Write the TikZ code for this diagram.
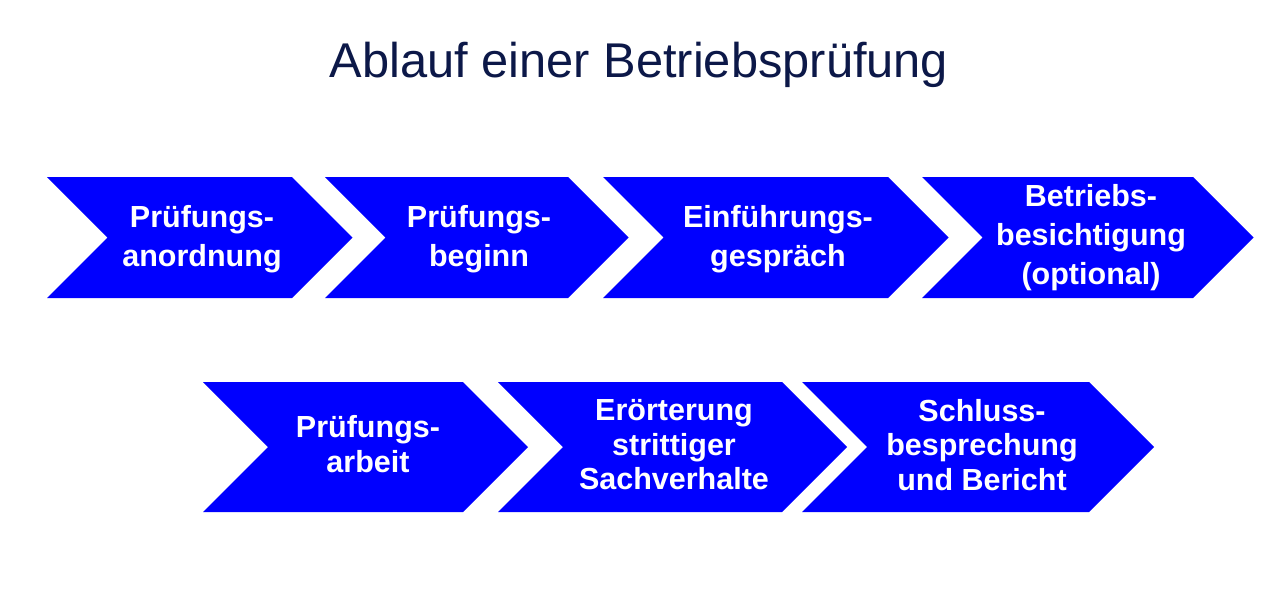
\documentclass[tikz,border=0pt]{standalone}
\usepackage{fontspec}
\setmainfont{Liberation Sans}
\definecolor{chevblue}{RGB}{0,0,255}
\definecolor{titlenavy}{RGB}{12,24,72}
\tikzset{
  chevron/.style={fill=chevblue, draw=none},
  chevtext/.style={text=white, font=\bfseries\fontsize{30.5}{39}\selectfont, align=center, inner sep=0pt, anchor=center},
  chevtextb/.style={chevtext, font=\bfseries\fontsize{30.5}{34.5}\selectfont},
  titletext/.style={text=titlenavy, font=\fontsize{48.8}{56}\selectfont, inner sep=0pt, anchor=base}
}
% #1 left, #2 corner, #3 top, #4 bottom, #5 depth
\newcommand{\mychev}[5]{%
  \fill[chevron] (#1,#3) -- (#2,#3) -- ({#2+#5},{(#3+#4)/2}) -- (#2,#4) -- (#1,#4) -- ({#1+#5},{(#3+#4)/2}) -- cycle;%
}
\begin{document}
\begin{tikzpicture}[x=1pt,y=-1pt]
\useasboundingbox (0,0) rectangle (1280,611);
\fill[white] (0,0) rectangle (1280,611);

\node[titletext] (title) at (639,77) {Ablauf einer Betriebsprüfung};

% row 1
\mychev{47}{292}{177}{298}{60.5}
\mychev{325}{568}{177}{298}{60.5}
\mychev{603}{888}{177}{298}{60.5}
\mychev{922}{1193}{177}{298}{60.5}
% row 2
\mychev{203}{463}{382}{512}{65}
\mychev{498}{782}{382}{512}{65}
\mychev{802}{1089}{382}{512}{65}

\node[chevtext] (t1) at (202,239) {Prüfungs-\\anordnung};
\node[chevtext] (t2) at (479,239) {Prüfungs-\\beginn};
\node[chevtext] (t3) at (778,239) {Einführungs-\\gespräch};
\node[chevtext] (t4) at (1091,237.2) {Betriebs-\\besichtigung\\(optional)};
\node[chevtextb] (t5) at (368,444.3) {Prüfungs-\\arbeit};
\node[chevtextb] (t6) at (674,444.6) {Erörterung\\strittiger\\Sachverhalte};
\node[chevtextb] (t7) at (982,444.6) {Schluss-\\besprechung\\und Bericht};
\end{tikzpicture}
\end{document}
